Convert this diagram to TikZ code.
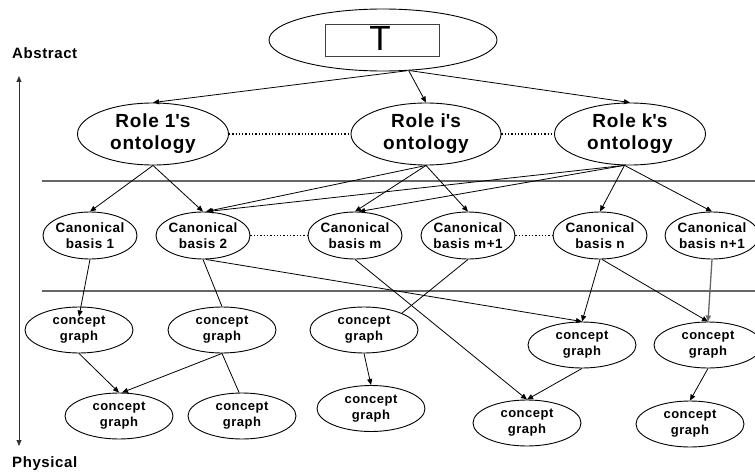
\documentclass[tikz,border=0pt]{standalone}
\usepackage{fontspec}
\setmainfont{Liberation Sans}[LetterSpace=4]
\newfontfamily\plainsans{Liberation Sans}
\usetikzlibrary{shapes.geometric,arrows.meta}
\newcommand{\apo}{\textquotesingle}
\begin{document}
\begin{tikzpicture}[x=1pt,y=-1pt,
  ell/.style={draw, ellipse, line width=0.9pt, inner sep=0pt},
  roleell/.style={ell, minimum width=151pt, minimum height=62pt},
  cbell/.style={ell, minimum width=94pt, minimum height=47pt},
  cgell/.style={ell, minimum width=108pt, minimum height=46pt},
  roletxt/.style={align=center, inner sep=0pt, font=\bfseries\fontsize{19}{22}\selectfont},
  cbtxt/.style={align=center, inner sep=0pt, font=\bfseries\fontsize{13.5}{16}\selectfont},
  cgtxt/.style={align=center, inner sep=0pt, font=\bfseries\fontsize{13}{16}\selectfont},
  arr/.style={line width=0.8pt, -{Triangle[length=6pt,width=5pt]}},
  plain/.style={line width=0.8pt},
  dots/.style={line width=1.2pt, dash pattern=on 1.3pt off 2pt},
  band/.style={line width=1.3pt, draw=black!60},
  side/.style={font=\bfseries\fontsize{15}{18}\selectfont, inner sep=0pt}
]
\useasboundingbox (0,0) rectangle (755,476);
\begin{scope}
\clip (0,0) rectangle (755,476);
% bands
\coordinate (b1l) at (42,181); \coordinate (b1r) at (756,181);
\coordinate (b2l) at (42,291); \coordinate (b2r) at (756,291);
\draw[band] (b1l) -- (b1r);
\draw[band] (b2l) -- (b2r);

% top
\node[ell, minimum width=228pt, minimum height=62pt] (T) at (383,40) {};
\node[draw, line width=0.9pt, draw=black!75, minimum width=114pt, minimum height=32pt, inner sep=0pt] (Tbox) at (382.5,40) {};
\node[inner sep=0pt, font=\plainsans\fontsize{35}{35}\selectfont] (Ttxt) at (380,38) {T};

% roles
\node[roleell, label={[roletxt]center:{Role 1\apo s\\ontology}}] (r1) at (153,134) {};
\node[roleell, minimum width=150pt, label={[roletxt]center:{Role i\apo s\\ontology}}] (ri) at (426,134) {};
\node[roleell, label={[roletxt]center:{Role k\apo s\\ontology}}] (rk) at (630,134) {};

% canonical bases
\node[cbell, label={[cbtxt]center:{Canonical\\basis 1}}] (cb1) at (90,235.5) {};
\node[cbell, label={[cbtxt]center:{Canonical\\basis 2}}] (cb2) at (203,235.5) {};
\node[cbell, label={[cbtxt]center:{Canonical\\basis m}}] (cbm) at (355,235.5) {};
\node[cbell, label={[cbtxt]center:{Canonical\\basis m+1}}] (cbm1) at (468,235.5) {};
\node[cbell, label={[cbtxt]center:{Canonical\\basis n}}] (cbn) at (600,235.5) {};
\node[cbell, label={[cbtxt]center:{Canonical\\basis n+1}}] (cbn1) at (712,235.5) {};

% concept graphs
\node[cgell, label={[cgtxt]center:{concept\\graph}}] (cg1) at (79,330) {};
\node[cgell, label={[cgtxt]center:{concept\\graph}}] (cg2) at (222,330) {};
\node[cgell, label={[cgtxt]center:{concept\\graph}}] (cg3) at (364,330) {};
\node[cgell, label={[cgtxt]center:{concept\\graph}}] (cga) at (582,345) {};
\node[cgell, label={[cgtxt]center:{concept\\graph}}] (cgb) at (708,345) {};
\node[cgell, label={[cgtxt]center:{concept\\graph}}] (cg4) at (119,416) {};
\node[cgell, label={[cgtxt]center:{concept\\graph}}] (cg5) at (242,416) {};
\node[cgell, label={[cgtxt]center:{concept\\graph}}] (cg6) at (371,408.5) {};
\node[cgell, label={[cgtxt]center:{concept\\graph}}] (cg7) at (527,423) {};
\node[cgell, label={[cgtxt]center:{concept\\graph}}] (cg8) at (690,424) {};

% dotted links
\draw[dots] (r1.east) -- (ri.west);
\draw[dots] (ri.east) -- (rk.west);
\draw[dots] (cb2.east) -- (cbm.west);
\draw[dots] (cbm1.east) -- (cbn.west);

% T to roles
\draw[arr] (T.-52) -- (r1.north);
\draw[arr] (T.-50) -- (ri.north);
\draw[arr] (T.-49) -- (rk.north);

% roles to bases
\draw[arr] (r1.south) -- (cb1.north);
\draw[arr] (r1.south) -- (cb2.north);
\draw[arr] (ri.south) -- ([xshift=3pt]cb2.north);
\draw[arr] (ri.south) -- (cbm.north);
\draw[arr] (ri.south) -- (cbm1.north);
\draw[arr] (rk.-100) -- ([xshift=4pt]cb2.north);
\draw[arr] (rk.-100) -- ([xshift=4pt]cbm.north);
\draw[arr] (rk.-100) -- (cbn.north);
\draw[arr] (rk.-100) -- (cbn1.north);

% bases to concept graphs
\draw[arr] (cb1.south) -- ([yshift=-10pt]cg1.north);
\draw[plain] (cb2.south) -- (cg2.north);
\draw[arr] ([xshift=3pt]cb2.south) -- (cga.north);
\draw[arr] (cbm.south) -- (cg7.north);
\draw[plain] (cbm1.south) -- (cg3.24);
\draw[arr] (cbn.south) -- (cga.north);
\draw[arr] ([xshift=2pt]cbn.south) -- (cgb.north);
\draw[line width=1.3pt, draw=black!60, -{Triangle[length=6pt,width=5pt]}] (cbn1.south) -- (cgb.north);

% concept graph links
\draw[arr] (cg1.south) -- (cg4.north);
\draw[arr] (cg2.south) -- ([xshift=3pt]cg4.north);
\draw[plain] (cg2.south) -- (cg5.97);
\draw[arr] (cg3.south) -- (cg6.north);
\draw[arr] (cga.south) -- (cg7.north);
\draw[arr] (cgb.south) -- (cg8.north);
\end{scope}

% side axis
\coordinate (axtop) at (19,76);
\coordinate (axbot) at (19,446);
\draw[line width=0.9pt, draw=black!80, {Triangle[length=6pt,width=5pt]}-{Triangle[length=6pt,width=5pt]}] (axtop) -- (axbot);
\node[side, anchor=west] (abs) at (12,53) {Abstract};
\node[side, anchor=west] (phys) at (12,464) {Physical};
\end{tikzpicture}
\end{document}
